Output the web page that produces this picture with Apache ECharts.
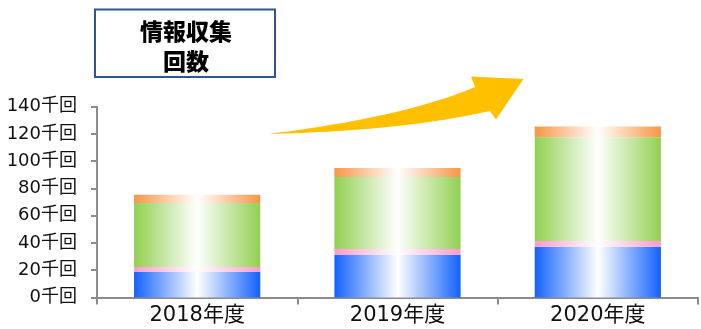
<!DOCTYPE html>
<html>
<head>
<meta charset="utf-8">
<script src="https://cdn.jsdelivr.net/npm/echarts@6/dist/echarts.min.js"></script>
<style>
  html, body { margin: 0; padding: 0; background: #fff; }
  #chart { width: 701px; height: 329px; }
</style>
</head>
<body>
<div id="chart"></div>
<script>
// Fiscal years on the category axis
const categories = ['2018年度', '2019年度', '2020年度'];

// Collection counts per year, in thousands, one array per stacked segment
const seriesBlue   = [18.8, 31.1, 37.2];
const seriesPink   = [3.5, 4.4, 4.2];
const seriesGreen  = [47.0, 53.0, 76.2];
const seriesOrange = [6.1, 6.6, 7.8];

// Value axis ticks (thousands)
const yTicks = [0, 20, 40, 60, 80, 100, 120, 140];

const titleLines = ['情報収集', '回数'];

const latin = '"DejaVu Sans", "Noto Sans CJK JP", sans-serif';

// Horizontal fade: solid at both edges, white in the middle
function fade(color) {
  return new echarts.graphic.LinearGradient(0, 0, 1, 0, [
    { offset: 0, color: color },
    { offset: 0.5, color: '#ffffff' },
    { offset: 1, color: color }
  ]);
}

function stackSeries(name, data, color) {
  return {
    name: name,
    type: 'bar',
    stack: 'total',
    barWidth: '63%',
    data: data,
    itemStyle: { color: fade(color) },
    emphasis: { disabled: true }
  };
}

// Sample a quadratic bezier into polygon points
function quad(p0, c, p1, steps) {
  const pts = [];
  for (let i = 0; i <= steps; i++) {
    const t = i / steps, u = 1 - t;
    pts.push([
      u * u * p0[0] + 2 * u * t * c[0] + t * t * p1[0],
      u * u * p0[1] + 2 * u * t * c[1] + t * t * p1[1]
    ]);
  }
  return pts;
}

// Curved rising arrow: lower edge, head, then upper edge back to the tail
const arrowPoints = [].concat(
  quad([268, 134], [400, 131], [490, 111], 30),
  [[496, 119.5], [523.5, 79], [471, 76.5]],
  quad([475, 87], [405, 117], [268, 134], 30)
);

const chart = echarts.init(document.getElementById('chart'), null, { renderer: 'canvas' });

chart.setOption({
  animation: false,
  backgroundColor: '#ffffff',
  grid: { left: 97, right: 3, top: 106.7, bottom: 31.5, containLabel: false },
  xAxis: {
    type: 'category',
    data: categories,
    boundaryGap: true,
    axisLine: { lineStyle: { color: '#8c8c8c', width: 2 } },
    axisTick: { show: true, alignWithLabel: false, length: 7, lineStyle: { color: '#8c8c8c', width: 2 } },
    axisLabel: { color: '#111', fontFamily: latin, fontSize: 21, margin: 8 }
  },
  yAxis: {
    type: 'value',
    min: yTicks[0],
    max: yTicks[yTicks.length - 1],
    interval: yTicks[1] - yTicks[0],
    splitLine: { show: false },
    axisLine: { show: true, lineStyle: { color: '#8c8c8c', width: 2 } },
    axisTick: { show: true, length: 6, lineStyle: { color: '#8c8c8c', width: 2 } },
    axisLabel: {
      color: '#111', fontFamily: latin, fontSize: 18, margin: 20,
      formatter: v => v + '千回'
    }
  },
  series: [
    stackSeries('blue', seriesBlue, '#1262ff'),
    stackSeries('pink', seriesPink, '#ff99cc'),
    stackSeries('green', seriesGreen, '#92d050'),
    stackSeries('orange', seriesOrange, '#f79646')
  ],
  graphic: [
    {
      type: 'rect',
      shape: { x: 95, y: 9.5, width: 180, height: 67.5 },
      style: { fill: '#ffffff', stroke: '#2f5597', lineWidth: 2 }
    },
    {
      type: 'text',
      x: 186, y: 31,
      style: {
        text: titleLines[0], fill: '#000', align: 'center', verticalAlign: 'middle',
        font: '900 23px "Noto Sans CJK JP", sans-serif'
      }
    },
    {
      type: 'text',
      x: 186, y: 61,
      style: {
        text: titleLines[1], fill: '#000', align: 'center', verticalAlign: 'middle',
        font: '900 23px "Noto Sans CJK JP", sans-serif'
      }
    },
    {
      type: 'polygon',
      shape: { points: arrowPoints },
      style: { fill: '#ffc000' }
    }
  ]
});
</script>
</body>
</html>
